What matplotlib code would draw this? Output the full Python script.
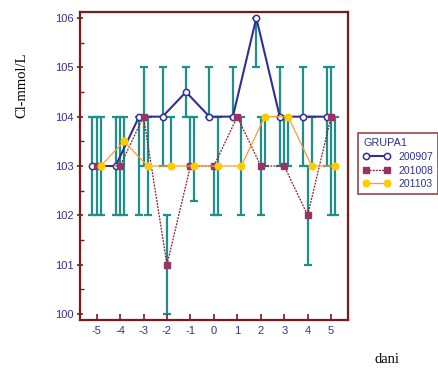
import matplotlib.pyplot as plt
from matplotlib.ticker import MultipleLocator

plt.rcParams["axes.unicode_minus"] = False

# days relative to sampling
days = [-5, -4, -3, -2, -1, 0, 1, 2, 3, 4, 5]

# group 200907
g1 = [103, 103, 104, 104, 104.5, 104, 104, 106, 104, 104, 104]
g1_low = [102, 102, 102, 103, 104, 104, 104, 105, 103, 103, 103]
g1_high = [104, 104, 104, 105, 105, 105, 105, 106, 105, 105, 105]

# group 201008
g2 = [103, 103, 104, 101, 103, 103, 104, 103, 103, 102, 104]
g2_low = [102, 102, 103, 100, 103, 102, 104, 102, 103, 101, 102]
g2_high = [104, 104, 105, 102, 104, 103, 104, 104, 104, 103, 105]

# group 201103
g3 = [103, 103.5, 103, 103, 103, 103, 103, 104, 104, 103, 103]
g3_low = [102, 102, 102, 103, 102.3, 102, 102, 103, 103, 103, 102]
g3_high = [104, 104, 104, 104, 104, 104, 104, 104, 104, 104, 104]

labels = ["200907", "201008", "201103"]

navy = "#2e3192"
maroon = "#7b1a1a"
teal = "#1f8f8a"

fig = plt.figure(figsize=(4.38, 3.72), dpi=100)
ax = fig.add_axes([0.1826, 0.1398, 0.6119, 0.8279])

groups = [
    (g1, g1_low, g1_high, -0.19),
    (g2, g2_low, g2_high, 0.0),
    (g3, g3_low, g3_high, 0.17),
]

# error bars first, underneath the lines
for vals, lo, hi, off in groups:
    xs = [d + off for d in days]
    err = [[v - l for v, l in zip(vals, lo)], [h - v for v, h in zip(vals, hi)]]
    ax.errorbar(xs, vals, yerr=err, fmt="none", ecolor=teal, elinewidth=1.6,
                capsize=2.7, capthick=1.6, zorder=1)

ax.plot([d - 0.19 for d in days], g1, color=navy, lw=1.5, marker="o", ms=4.5,
        mfc="white", mec=navy, mew=1.1, label=labels[0], zorder=3)
ax.plot(days, g2, color="#8b1a1a", lw=0.9, ls=(0, (1.5, 1)), marker="s", ms=5,
        mfc="#993366", mec="#993366", label=labels[1], zorder=4)
ax.plot([d + 0.17 for d in days], g3, color="#ff9933", lw=0.9, marker="o", ms=4.8,
        mfc="#ffcc00", mec="#ffcc00", label=labels[2], zorder=5)

ax.set_xlim(-5.71, 5.72)
ax.set_ylim(99.88, 106.12)
ax.set_xticks(days)
ax.yaxis.set_major_locator(MultipleLocator(1))
ax.yaxis.set_minor_locator(MultipleLocator(0.5))

for s in ax.spines.values():
    s.set_color(maroon)
    s.set_linewidth(1.6)

ax.tick_params(axis="x", direction="in", length=4, width=1.2, color=maroon,
               labelcolor=navy, labelsize=8, pad=4)
ax.tick_params(axis="y", which="major", direction="inout", length=5, width=1.2,
               color=maroon, labelcolor=navy, labelsize=8, pad=2)
ax.tick_params(axis="y", which="minor", direction="in", length=3, width=1,
               color=maroon)
for t in ax.get_xticklabels() + ax.get_yticklabels():
    t.set_family("Liberation Sans")

fig.text(0.0502, 0.77, "Cl-mmol/L", rotation=90, ha="center", va="center",
         family="Liberation Serif", fontsize=10.5)
fig.text(0.884, 0.015, "dani", ha="center", va="bottom",
         family="Liberation Serif", fontsize=10.5)

leg = fig.legend(loc="upper left", bbox_to_anchor=(358 / 438, 1 - 133 / 372),
                 borderaxespad=0, title="GRUPA1", numpoints=2,
                 handlelength=2.6, handletextpad=0.75, labelspacing=0.35,
                 borderpad=0.5, fancybox=False,
                 prop={"family": "Liberation Sans", "size": 7.5},
                 title_fontproperties={"family": "Liberation Sans", "size": 7.8},
                 alignment="left")
leg.get_frame().set_edgecolor(maroon)
leg.get_frame().set_linewidth(1.2)
for t in leg.get_texts():
    t.set_color(navy)
leg.get_title().set_color(navy)

fig.savefig("out.png", dpi=100)
